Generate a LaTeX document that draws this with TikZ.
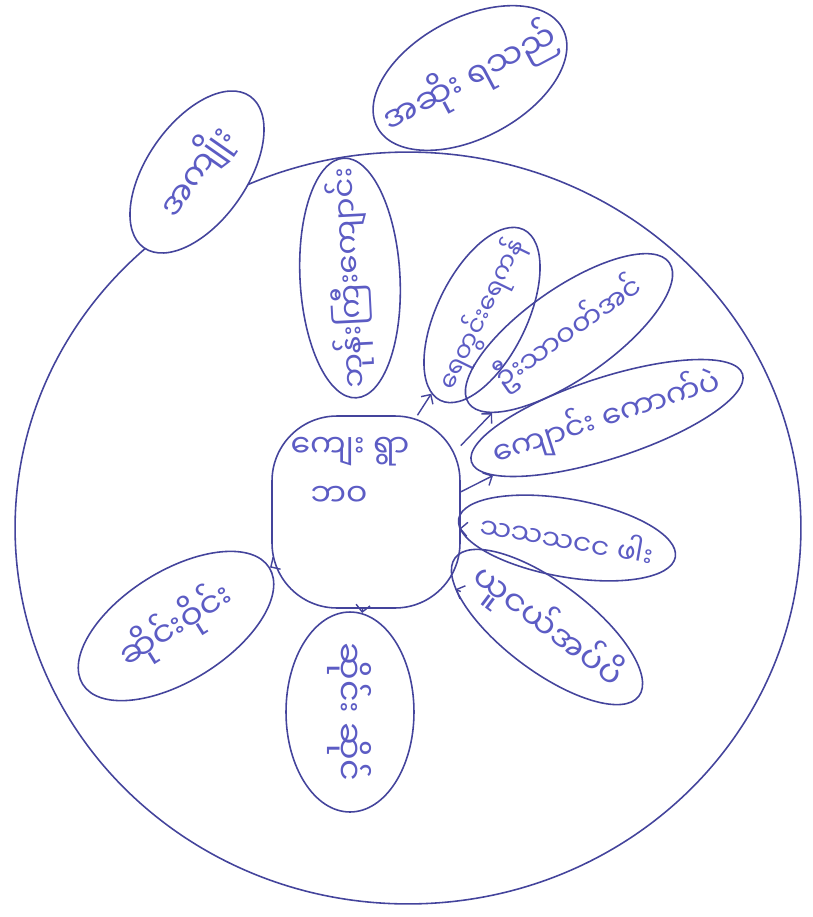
\documentclass[tikz,border=0pt]{standalone}
\usepackage{fontspec}
\newfontfamily\mmfont[Script=Myanmar]{Noto Sans Myanmar UI}
\usetikzlibrary{shapes.geometric,arrows.meta}
\definecolor{ink}{HTML}{44449C}
\definecolor{inktext}{HTML}{5C5CC4}
\tikzset{
  petal/.style={draw=ink, ellipse, line width=0.9pt, inner xsep=-1.2cm, inner ysep=-0.5cm,
    text=inktext, font=\mmfont\fontsize{16}{20}\selectfont},
  smalltext/.style={font=\mmfont\fontsize{14.5}{18}\selectfont},
  midtext/.style={font=\mmfont\fontsize{17.5}{21}\selectfont},
  bigtext/.style={font=\mmfont\fontsize{19}{22}\selectfont},
  outer/.style={petal, fill=white},
  arr/.style={draw=ink, line width=0.8pt, -{Straight Barb[length=4pt,width=8pt]}},
}
\begin{document}
\begin{tikzpicture}[x=0.02cm, y=-0.02cm]
\useasboundingbox (0,0) rectangle (813,917);
% outer ring:
\draw[ink, line width=0.9pt] (408,528) ellipse [x radius=7.86cm, y radius=7.52cm];
% outside the ring:
\node[outer, bigtext, minimum width=3.7cm, minimum height=2.0cm, rotate=55] (tl) at (197,172) {အကျိုး};
\node[outer, bigtext, minimum width=4.2cm, minimum height=2.4cm, rotate=28] (tr) at (470,78) {အဆိုး ရသည်};
% centre:
\node[draw=ink, line width=0.9pt, rounded corners=1.3cm, minimum width=3.76cm, minimum height=3.84cm] (ctr) at (366,512) {};
\node[text=inktext, font=\mmfont\fontsize{18}{26}\selectfont, align=left] (ctrtxt) at (350,472) {ကျေး ရွာ\\[2pt]\hspace{4mm}ဘဝ};
% petals:
\node[petal, midtext, minimum width=4.8cm, minimum height=2.0cm, rotate=93] (top) at (350,278) {ဘုန်းကြီးကျောင်း};
\node[petal, smalltext, minimum width=3.8cm, minimum height=1.8cm, rotate=64] (r1) at (482,315) {ရေတွင်းရေကန်};
\node[petal, minimum width=4.9cm, minimum height=1.8cm, rotate=35] (r2) at (569,333) {ဦးသာဝတ်အင်};
\node[petal, midtext, minimum width=5.7cm, minimum height=1.62cm, rotate=18] (r3) at (607,418) {ကျောင်း ကောက်ပဲ};
\node[petal, minimum width=4.4cm, minimum height=1.56cm, rotate=-10] (r4) at (567,538) {သသသငင ဖါး};
\node[petal, bigtext, minimum width=4.6cm, minimum height=1.76cm, rotate=-37] (r5) at (547,627) {ယူငယ်အပ်ပိ};
\node[petal, bigtext, minimum width=4.0cm, minimum height=2.56cm, rotate=-90] (bot) at (350,712) {ဆိုင်း ဆိုင်};
\node[petal, bigtext, minimum width=4.4cm, minimum height=2.2cm, rotate=32] (lft) at (176,626) {ဆိုင်းဝိုင်း};
% arrows:
\draw[arr] (ctr.62) -- (r1);
\draw[arr] (ctr.35) -- (r2);
\draw[arr] (ctr.12) -- (r3);
\draw[arr] (ctr.-10) -- (r4);
\draw[arr] (ctr.-40) -- (r5);
\draw[arr] (ctr.-92) -- (bot);
\draw[arr] (ctr.-150) -- (lft);
\end{tikzpicture}
\end{document}
